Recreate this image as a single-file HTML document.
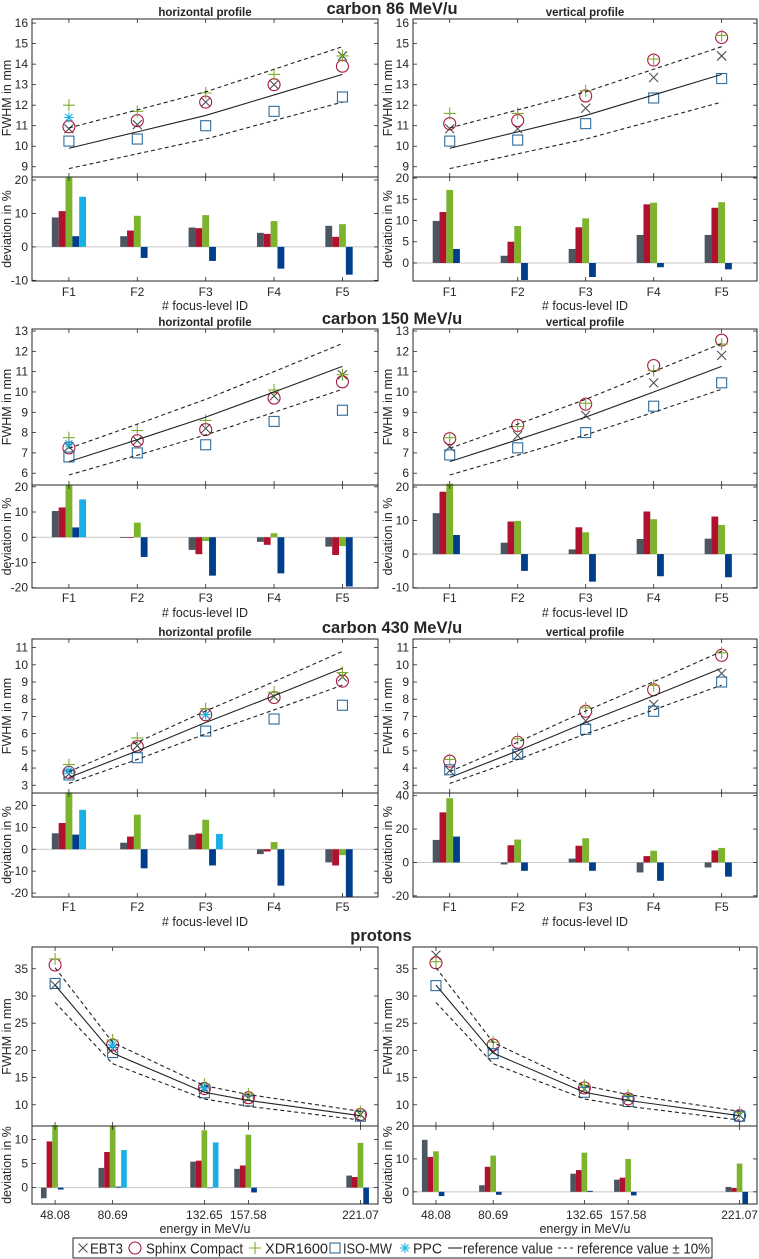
<!DOCTYPE html>
<html><head><meta charset="utf-8"><style>
html,body{margin:0;padding:0;background:#fff;}
svg{display:block;font-family:"Liberation Sans",sans-serif;}
</style></head><body>
<svg id="fig" width="759" height="1259" viewBox="0 0 759 1259" xmlns="http://www.w3.org/2000/svg"></svg>
<script>
// ---- categories / tick labels ----
const focusLabels = ["F1","F2","F3","F4","F5"];
const protonEnergies = [48.08, 80.69, 132.65, 157.58, 221.07];
const protonTickLabels = ["48.08","80.69","132.65","157.58","221.07"];
const seriesNames = ["EBT3","Sphinx Compact","XDR1600","ISO-MW","PPC"];

// ---- carbon 86 MeV/u ----
const c86H_ref = [9.9, 10.7, 11.5, 12.5, 13.5];
const c86H_fwhm = [
  [10.85, 11.05, 12.15, 13.0, 14.4],
  [10.95, 11.25, 12.15, 13.0, 13.9],
  [12.0, 11.7, 12.6, 13.5, 14.4],
  [10.25, 10.35, 11.0, 11.7, 12.4],
  [11.4, null, null, null, null]];
const c86H_dev = [
  [8.8, 3.2, 5.8, 4.2, 6.3],
  [10.7, 4.9, 5.6, 3.9, 3.0],
  [21, 9.3, 9.5, 7.7, 6.8],
  [3.2, -3.3, -4.2, -6.5, -8.3],
  [15, null, null, null, null]];
const c86V_ref = [9.9, 10.7, 11.5, 12.5, 13.5];
const c86V_fwhm = [
  [10.85, 10.85, 11.85, 13.35, 14.4],
  [11.1, 11.25, 12.45, 14.2, 15.3],
  [11.6, 11.6, 12.7, 14.25, 15.4],
  [10.25, 10.3, 11.1, 12.35, 13.3],
  [null, null, null, null, null]];
const c86V_dev = [
  [9.9, 1.7, 3.3, 6.6, 6.6],
  [12.0, 5.0, 8.4, 13.8, 13.0],
  [17.2, 8.7, 10.5, 14.2, 14.3],
  [3.3, -4, -3.3, -1, -1.5],
  [null, null, null, null, null]];

// ---- carbon 150 MeV/u ----
const c150H_ref = [6.57, 7.65, 8.76, 10.0, 11.26];
const c150H_fwhm = [
  [7.3, 7.6, 8.2, 9.8, 10.85],
  [7.25, 7.6, 8.15, 9.7, 10.5],
  [7.75, 8.1, 8.6, 10.1, 10.85],
  [6.8, 7.0, 7.4, 8.55, 9.1],
  [7.45, null, null, null, null]];
const c150H_dev = [
  [10.4, -0.3, -5, -1.8, -3.7],
  [11.8, -0.3, -6.7, -3, -7],
  [20.5, 5.8, -1.5, 1.6, -3.5],
  [3.9, -7.8, -15.2, -14.3, -19.5],
  [15, null, null, null, null]];
const c150V_ref = [6.57, 7.65, 8.76, 10.0, 11.26];
const c150V_fwhm = [
  [7.3, 7.85, 8.85, 10.45, 11.8],
  [7.7, 8.35, 9.4, 11.3, 12.55],
  [7.75, 8.3, 9.45, 11.05, 12.35],
  [6.9, 7.25, 8.0, 9.3, 10.45],
  [null, null, null, null, null]];
const c150V_dev = [
  [12.2, 3.4, 1.4, 4.5, 4.6],
  [18.6, 9.7, 8.0, 12.7, 11.2],
  [21, 9.9, 6.5, 10.4, 8.7],
  [5.7, -5, -8.2, -6.6, -6.9],
  [null, null, null, null, null]];

// ---- carbon 430 MeV/u ----
const c430H_ref = [3.45, 5.0, 6.65, 8.2, 9.8];
const c430H_fwhm = [
  [3.65, 5.3, 7.1, 8.15, 9.3],
  [3.75, 5.25, 7.1, 8.1, 9.05],
  [4.2, 5.75, 7.45, 8.4, 9.55],
  [3.6, 4.6, 6.15, 6.85, 7.65],
  [3.85, null, 7.1, null, null]];
const c430H_dev = [
  [7.3, 3, 6.6, -2.2, -6],
  [12, 5.8, 7.2, -1, -7.4],
  [26, 15.8, 13.5, 3.3, -2.7],
  [6.7, -8.7, -7.4, -16.6, -22],
  [18, null, 7, null, null]];
const c430V_ref = [3.45, 5.0, 6.65, 8.2, 9.8];
const c430V_fwhm = [
  [3.85, 4.75, 6.75, 7.7, 9.5],
  [4.4, 5.5, 7.3, 8.55, 10.55],
  [4.5, 5.7, 7.5, 8.8, 10.7],
  [3.9, 4.8, 6.25, 7.3, 9.0],
  [null, null, null, null, null]];
const c430V_dev = [
  [13.5, -1.2, 2.3, -6, -3],
  [30, 10.3, 10, 3.8, 7.2],
  [38.5, 13.7, 14.5, 7, 8.7],
  [15.5, -5, -5, -11, -8.5],
  [null, null, null, null, null]];

// ---- protons ----
const pH_ref = [32.0, 19.5, 12.3, 10.8, 8.0];
const pH_fwhm = [
  [32.0, 20.3, 12.9, 11.2, 8.2],
  [35.7, 21.0, 13.0, 11.3, 8.2],
  [36.8, 21.9, 13.8, 12.0, 8.75],
  [32.3, 19.6, 12.2, 10.7, 7.9],
  [null, 21.0, 13.2, null, null]];
const pH_dev = [
  [-2.2, 4.1, 5.4, 3.9, 2.5],
  [9.6, 7.4, 5.6, 4.6, 2.2],
  [13, 12.8, 11.9, 11, 9.3],
  [-0.4, 0.2, -0.1, -1, -3.4],
  [null, 7.8, 9.4, null, null]];
const pV_ref = [32.0, 19.5, 12.3, 10.8, 8.0];
const pV_fwhm = [
  [37.5, 19.8, 12.9, 11.2, 8.1],
  [36.1, 21.0, 13.1, 11.1, 8.0],
  [36.3, 21.5, 13.6, 11.7, 8.6],
  [31.9, 19.4, 12.3, 10.6, 7.9],
  [null, null, null, null, null]];
const pV_dev = [
  [15.8, 2.0, 5.5, 3.7, 1.5],
  [10.6, 7.6, 6.6, 4.3, 1.2],
  [12.3, 11, 11.9, 10, 8.6],
  [-1.3, -0.9, 0.3, -1.1, -3.7],
  [null, null, null, null, null]];

// ---- rendering ----
const NS = "http://www.w3.org/2000/svg";
const svg = document.getElementById("fig");
const markerCol = ["#4a4f55", "#a8173c", "#7fae2f", "#2f6c9c", "#1db1e4"];
const barCol = ["#4b5660", "#b0112f", "#7cb42e", "#003e8c", "#1bb0e5"];
const AX = "#262626";
let clipId = 0;

function mk(tag, attrs, parent) {
  const e = document.createElementNS(NS, tag);
  for (const k in attrs) e.setAttribute(k, attrs[k]);
  (parent || svg).appendChild(e);
  return e;
}
function txt(s, x, y, size, anchor, parent, weight) {
  const t = mk("text", {x: x, y: y, "font-size": size, "text-anchor": anchor || "middle", fill: AX}, parent);
  if (weight) t.setAttribute("font-weight", weight);
  t.textContent = s;
  return t;
}
function linScale(d0, d1, r0, r1) { return v => r0 + (v - d0) / (d1 - d0) * (r1 - r0); }

function drawMarker(g, kind, cx, cy) {
  const c = markerCol[kind];
  const st = {stroke: c, "stroke-width": 1.1, fill: "none"};
  let m;
  if (kind === 0) {
    m = mk("path", Object.assign({d: `M${cx-4.5},${cy-4.5}L${cx+4.5},${cy+4.5}M${cx-4.5},${cy+4.5}L${cx+4.5},${cy-4.5}`}, st), g);
  } else if (kind === 1) {
    m = mk("circle", Object.assign({cx: cx, cy: cy, r: 6}, st), g);
  } else if (kind === 2) {
    m = mk("path", Object.assign({d: `M${cx-6},${cy}L${cx+6},${cy}M${cx},${cy-6}L${cx},${cy+6}`}, st), g);
  } else if (kind === 3) {
    m = mk("rect", Object.assign({x: cx-5, y: cy-5, width: 10, height: 10}, st), g);
  } else {
    m = mk("path", Object.assign({d: `M${cx-5},${cy}L${cx+5},${cy}M${cx-3.5},${cy-3.5}L${cx+3.5},${cy+3.5}M${cx-3.5},${cy+3.5}L${cx+3.5},${cy-3.5}M${cx},${cy-5}L${cx},${cy+5}`}, st), g);
  }
  return m;
}

function drawPanel(p) {
  const g = mk("g", {});
  
  
  const sx = linScale(p.xlim[0], p.xlim[1], p.x0, p.x1);
  const syT = linScale(p.ylimT[0], p.ylimT[1], p.div, p.top);
  const syB = linScale(p.ylimB[0], p.ylimB[1], p.bot, p.div);
  const cid = "c" + (clipId++);
  const cp = mk("clipPath", {id: cid}, g);
  mk("rect", {x: p.x0, y: p.top, width: p.x1 - p.x0, height: p.bot - p.top}, cp);
  // ----- top axes -----
  mk("rect", {x: p.x0, y: p.top, width: p.x1 - p.x0, height: p.div - p.top, fill: "#fff", stroke: AX, "stroke-width": 1}, g);
  p.ticksT.forEach(v => {
    const y = syT(v);
    mk("line", {x1: p.x0, y1: y, x2: p.x0 + 4, y2: y, stroke: AX, "stroke-width": 0.8}, g);
    mk("line", {x1: p.x1, y1: y, x2: p.x1 - 4, y2: y, stroke: AX, "stroke-width": 0.8}, g);
    const t = txt(String(v), p.x0 - 4, y + 4, 12, "end", g);
    
    
  });
  p.xs.forEach(xv => {
    const x = sx(xv);
    mk("line", {x1: x, y1: p.top, x2: x, y2: p.top + 4, stroke: AX, "stroke-width": 0.8}, g);
    mk("line", {x1: x, y1: p.div, x2: x, y2: p.div - 4, stroke: AX, "stroke-width": 0.8}, g);
  });
  const gl = mk("g", {"clip-path": `url(#${cid})`}, g);
  p.fwhm.forEach((row, k) => {
    row.forEach((v, i) => {
      if (v === null || v === undefined) return;
      const m = drawMarker(gl, k, sx(p.xs[i]), syT(v));
      
      
    });
  });
  const mkLine = (f, dash, nm) => {
    const d = p.ref.map((v, i) => (i ? "L" : "M") + sx(p.xs[i]).toFixed(2) + "," + syT(v * f).toFixed(2)).join("");
    const l = mk("path", {d: d, fill: "none", stroke: "#222", "stroke-width": 1.1}, gl);
    if (dash) l.setAttribute("stroke-dasharray", "4,3");
    
    
  };
  mkLine(1, false, 'reference-line');
  mkLine(1.1, true, 'reference-upper-line');
  mkLine(0.9, true, 'reference-lower-line');
  const yl = txt("FWHM in mm", 0, 0, 12.5, "middle", g);
  yl.setAttribute("transform", `translate(${p.x0 - 21},${(p.top + p.div) / 2}) rotate(-90)`);
  
  
  // ----- bottom axes -----
  mk("rect", {x: p.x0, y: p.div, width: p.x1 - p.x0, height: p.bot - p.div, fill: "#fff", stroke: AX, "stroke-width": 1}, g);
  const gb = mk("g", {"clip-path": `url(#${cid})`}, g);
  mk("line", {x1: p.x0, y1: syB(0), x2: p.x1, y2: syB(0), stroke: "#c8c8c8", "stroke-width": 1}, gb);
  p.dev.forEach((row, k) => {
    row.forEach((v, i) => {
      if (v === null || v === undefined) return;
      const cx = sx(p.xs[i] + (k - 2) * p.bw);
      const bwPx = sx(p.xs[i] + p.bw) - sx(p.xs[i]);
      const y0 = syB(0), y1 = syB(v);
      const b = mk("rect", {x: cx - bwPx / 2, y: Math.min(y0, y1), width: bwPx, height: Math.abs(y1 - y0), fill: barCol[k]}, gb);
      
      
    });
  });
  mk("rect", {x: p.x0, y: p.div, width: p.x1 - p.x0, height: p.bot - p.div, fill: "none", stroke: AX, "stroke-width": 1}, g);
  p.ticksB.forEach(v => {
    const y = syB(v);
    mk("line", {x1: p.x0, y1: y, x2: p.x0 + 4, y2: y, stroke: AX, "stroke-width": 0.8}, g);
    mk("line", {x1: p.x1, y1: y, x2: p.x1 - 4, y2: y, stroke: AX, "stroke-width": 0.8}, g);
    const t = txt(String(v), p.x0 - 4, y + 4, 12, "end", g);
    
    
  });
  p.xs.forEach((xv, i) => {
    const x = sx(xv);
    mk("line", {x1: x, y1: p.div, x2: x, y2: p.div + 4, stroke: AX, "stroke-width": 0.8}, g);
    mk("line", {x1: x, y1: p.bot, x2: x, y2: p.bot - 4, stroke: AX, "stroke-width": 0.8}, g);
    const t = txt(p.xlabels[i], x, p.tickY, 12, "middle", g);
    
    
  });
  const yl2 = txt("deviation in %", 0, 0, 12.5, "middle", g);
  yl2.setAttribute("transform", `translate(${p.x0 - 21},${(p.div + p.bot) / 2}) rotate(-90)`);
  
  
  const xl = txt(p.xlabel, (p.x0 + p.x1) / 2, p.xlabY, 12.5, "middle", g);
  
  
  if (p.sub) {
    const st = txt(p.sub, (p.x0 + p.x1) / 2, p.top - 3, 11.5, "middle", g, "bold");
    
    
  }
}

const focusX = [1, 2, 3, 4, 5];
const LX = [32, 378], RX = [413, 757];
const rng = (a, b, s) => { const r = []; for (let v = a; v <= b + 1e-9; v += s) r.push(v); return r; };
const sections = [
  {title: "carbon 86 MeV/u", ty: 15, top: 19, div: 177, bot: 281, tickY: 296, xlabY: 310,
   L: {ref: c86H_ref, fwhm: c86H_fwhm, dev: c86H_dev, ylimT: [8.5, 16.2], ticksT: rng(9, 16, 1), ylimB: [-10.2, 20.9], ticksB: [-10, 0, 10, 20]},
   R: {ref: c86V_ref, fwhm: c86V_fwhm, dev: c86V_dev, ylimT: [8.5, 16.2], ticksT: rng(9, 16, 1), ylimB: [-4.24, 20.24], ticksB: [0, 5, 10, 15, 20]}},
  {title: "carbon 150 MeV/u", ty: 325, top: 329, div: 485, bot: 588, tickY: 602, xlabY: 617,
   L: {ref: c150H_ref, fwhm: c150H_fwhm, dev: c150H_dev, ylimT: [5.42, 13.1], ticksT: rng(6, 13, 1), ylimB: [-20.1, 20.7], ticksB: [-20, -10, 0, 10, 20]},
   R: {ref: c150V_ref, fwhm: c150V_fwhm, dev: c150V_dev, ylimT: [5.42, 13.1], ticksT: rng(6, 13, 1), ylimB: [-10.1, 20.6], ticksB: [-10, 0, 10, 20]}},
  {title: "carbon 430 MeV/u", ty: 634, top: 639, div: 793, bot: 897, tickY: 911, xlabY: 926,
   L: {ref: c430H_ref, fwhm: c430H_fwhm, dev: c430H_dev, ylimT: [2.55, 11.5], ticksT: rng(3, 11, 1), ylimB: [-21.8, 25.7], ticksB: [-20, -10, 0, 10, 20]},
   R: {ref: c430V_ref, fwhm: c430V_fwhm, dev: c430V_dev, ylimT: [2.55, 11.5], ticksT: rng(3, 11, 1), ylimB: [-20.7, 41.6], ticksB: [-20, 0, 20, 40]}},
  {title: "protons", ty: 942, top: 947, div: 1126, bot: 1204, tickY: 1219, xlabY: 1233, proton: true,
   L: {ref: pH_ref, fwhm: pH_fwhm, dev: pH_dev, ylimT: [6.1, 39], ticksT: [10, 15, 20, 25, 30, 35], ylimB: [-3.4, 12.8], ticksB: [0, 5, 10]},
   R: {ref: pV_ref, fwhm: pV_fwhm, dev: pV_dev, ylimT: [6.1, 39], ticksT: [10, 15, 20, 25, 30, 35], ylimB: [-3.7, 20], ticksB: [0, 10, 20]}}
];

sections.forEach((s, si) => {
  const t = txt(s.title, 392, s.ty - 1, 16.5, "middle", svg, "bold");
  if (s.proton) t.setAttribute("x", 381);
  
  
  [["L", LX, "horizontal profile"], ["R", RX, "vertical profile"]].forEach(([side, xr, sub]) => {
    const d = s[side];
    const p = Object.assign({}, d, {
      name: (s.proton ? "protons" : "carbon-" + si) + "-" + (side === "L" ? "horizontal" : "vertical") + "-panel",
      x0: xr[0], x1: xr[1], top: s.top, div: s.div, bot: s.bot, tickY: s.tickY, xlabY: s.xlabY,
      xs: s.proton ? protonEnergies : focusX,
      xlim: s.proton ? [35, 231] : [0.46, 5.52],
      xlabels: s.proton ? protonTickLabels : focusLabels,
      xlabel: s.proton ? "energy in MeV/u" : "# focus-level ID",
      bw: s.proton ? 3.2 : 0.1,
      sub: s.proton ? null : sub
    });
    drawPanel(p);
  });
});

// ---- legend ----
const lg = mk("g", {});


mk("rect", {x: 73, y: 1238, width: 639, height: 20, fill: "#fff", stroke: AX, "stroke-width": 1}, lg);
const legItems = [[0, 83, "EBT3", 90, 33], [1, 135, "Sphinx Compact", 146, 97], [2, 255, "XDR1600", 265, 63], [3, 335, "ISO-MW", 343, 49], [4, 405, "PPC", 413, 29]];
legItems.forEach(([k, mx, label, tx, tw]) => {
  const e = mk("g", {}, lg);
  
  
  drawMarker(e, k, mx, 1248);
  const t = txt(label, tx, 1253.5, 15, "start", e);
  t.setAttribute("textLength", tw);
  t.setAttribute("lengthAdjust", "spacingAndGlyphs");
});
const e1 = mk("g", {}, lg);


mk("line", {x1: 448, y1: 1248, x2: 462, y2: 1248, stroke: "#222", "stroke-width": 1.1}, e1);
const t1 = txt("reference value", 463, 1253.5, 15, "start", e1);
t1.setAttribute("textLength", 90);
t1.setAttribute("lengthAdjust", "spacingAndGlyphs");
const e2 = mk("g", {}, lg);


mk("line", {x1: 558, y1: 1248, x2: 575, y2: 1248, stroke: "#222", "stroke-width": 1.1, "stroke-dasharray": "3,3"}, e2);
const t2 = txt("reference value ± 10%", 577, 1253.5, 15, "start", e2);
t2.setAttribute("textLength", 133);
t2.setAttribute("lengthAdjust", "spacingAndGlyphs");
</script>
</body></html>
